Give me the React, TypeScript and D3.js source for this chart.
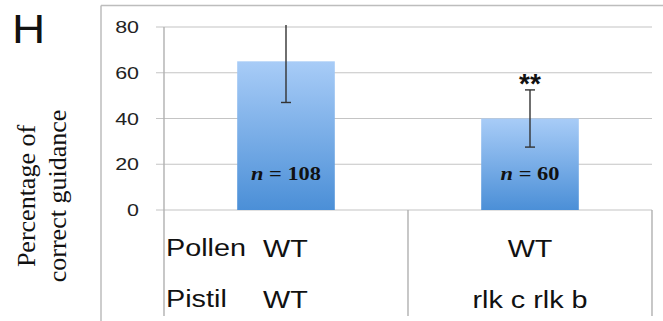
import React from "react";
import * as d3 from "d3";

// Guidance assay: percentage of pollen tubes correctly guided
const groups = ["WT x WT", "WT x rlk c rlk b"];
const values = [65, 40];
const errors = [18, 12.5];
const sampleSizes = [108, 60];
const significance = ["", "**"];
const yTicks = [0, 20, 40, 60, 80];
const pollenRow = ["WT", "WT"];
const pistilRow = ["WT", "rlk c rlk b"];

const W = 663;
const H = 321;

export default function App() {
  const x = d3
    .scaleBand<string>()
    .domain(groups)
    .range([164, 652])
    .paddingInner(0.6)
    .paddingOuter(0.3);
  const y = d3.scaleLinear().domain([0, 80]).range([210, 27]);
  const cells = d3.scaleBand<string>().domain(groups).range([164, 652]);

  const grid = "#c4c4c4";
  const sans = "'Liberation Sans', Arial, sans-serif";
  const serif = "'Liberation Serif', 'Times New Roman', serif";

  return (
    <svg
      width={W}
      height={H}
      style={{ position: "absolute", left: 0, top: 0, background: "#fff" }}
    >
      <defs>
        <linearGradient id="barFill" x1="0" y1="0" x2="0" y2="1">
          <stop offset="0" stopColor="#a8ccf7" />
          <stop offset="1" stopColor="#4b8fd7" />
        </linearGradient>
        <clipPath id="plotClip">
          <rect x={164} y={25} width={488} height={190} />
        </clipPath>
      </defs>

      {/* outer frame */}
      <line x1={101} x2={101} y1={5.5} y2={H} stroke="#bdbdbd" strokeWidth={1.5} />
      <line x1={101} x2={W} y1={5.5} y2={5.5} stroke="#bdbdbd" strokeWidth={1.5} />

      {/* panel letter */}
      <text
        transform="translate(12,43) scale(1.15,1)"
        fontFamily={sans}
        fontSize={40}
        fill="#111"
      >
        H
      </text>

      {/* gridlines with tick stubs */}
      {yTicks.map((t) => (
        <line
          key={t}
          x1={156}
          x2={652}
          y1={y(t)}
          y2={y(t)}
          stroke={grid}
          strokeWidth={1.2}
        />
      ))}
      {yTicks.map((t) => (
        <text
          key={"l" + t}
          transform={`translate(139,${y(t) + 6}) scale(1.3,1)`}
          textAnchor="end"
          fontFamily={sans}
          fontSize={16.5}
          fill="#222"
        >
          {t}
        </text>
      ))}

      {/* y axis, continuing down as the table's left edge */}
      <line x1={164} x2={164} y1={y(80)} y2={316} stroke="#b0b0b0" strokeWidth={1.4} />

      {/* table grid */}
      {groups.slice(1).map((g) => (
        <line
          key={g}
          x1={cells(g)!}
          x2={cells(g)!}
          y1={y(0)}
          y2={316}
          stroke="#b0b0b0"
          strokeWidth={1.4}
        />
      ))}
      <line x1={652} x2={652} y1={y(0)} y2={316} stroke="#b0b0b0" strokeWidth={1.4} />

      {/* bars */}
      {groups.map((g, i) => (
        <rect
          key={g}
          x={x(g)!}
          y={y(values[i])}
          width={x.bandwidth()}
          height={y(0) - y(values[i])}
          fill="url(#barFill)"
        />
      ))}

      {/* error bars */}
      <g clipPath="url(#plotClip)">
        {groups.map((g, i) => {
          const cx = x(g)! + x.bandwidth() / 2;
          const top = y(values[i] + errors[i]);
          const bot = y(values[i] - errors[i]);
          return (
            <g key={g} stroke="#333" strokeWidth={1.4}>
              <line x1={cx} x2={cx} y1={top} y2={bot} />
              <line x1={cx - 5} x2={cx + 5} y1={top} y2={top} />
              <line x1={cx - 5} x2={cx + 5} y1={bot} y2={bot} />
            </g>
          );
        })}
      </g>

      {/* significance marks */}
      {groups.map((g, i) =>
        significance[i] ? (
          <text
            key={"s" + g}
            x={x(g)! + x.bandwidth() / 2}
            y={y(values[i] + errors[i]) + 3}
            textAnchor="middle"
            fontFamily={sans}
            fontWeight="bold"
            fontSize={28}
            fill="#111"
          >
            {significance[i]}
          </text>
        ) : null
      )}

      {/* sample sizes */}
      {groups.map((g, i) => (
        <text
          key={"n" + g}
          transform={`translate(${x(g)! + x.bandwidth() / 2},180) scale(1.15,1)`}
          textAnchor="middle"
          fontFamily={serif}
          fontWeight="bold"
          fontSize={19.5}
          fill="#111"
        >
          <tspan fontStyle="italic">n</tspan> = {sampleSizes[i]}
        </text>
      ))}

      {/* y axis title */}
      <g transform="translate(0,196) rotate(-90)" fontFamily={serif} fontSize={26} fill="#111">
        <text x={0} y={35} textAnchor="middle">
          Percentage of
        </text>
        <text x={0} y={66} textAnchor="middle">
          correct guidance
        </text>
      </g>

      {/* genotype table */}
      <text transform="translate(166,256) scale(1.2,1)" fontFamily={sans} fontSize={24} fill="#111">
        Pollen
      </text>
      <text transform="translate(166,307) scale(1.2,1)" fontFamily={sans} fontSize={24} fill="#111">
        Pistil
      </text>
      {groups.map((g, i) => {
        const first = i === 0;
        const cx = cells(g)! + cells.bandwidth() / 2;
        const tx = first ? 263 : cx;
        const anchor = first ? "start" : "middle";
        return (
          <g key={"t" + g} fontFamily={sans} fontSize={24} fill="#111">
            <text transform={`translate(${tx},257) scale(1.2,1)`} textAnchor={anchor}>
              {pollenRow[i]}
            </text>
            <text transform={`translate(${tx},308) scale(1.2,1)`} textAnchor={anchor}>
              {pistilRow[i]}
            </text>
          </g>
        );
      })}
    </svg>
  );
}
